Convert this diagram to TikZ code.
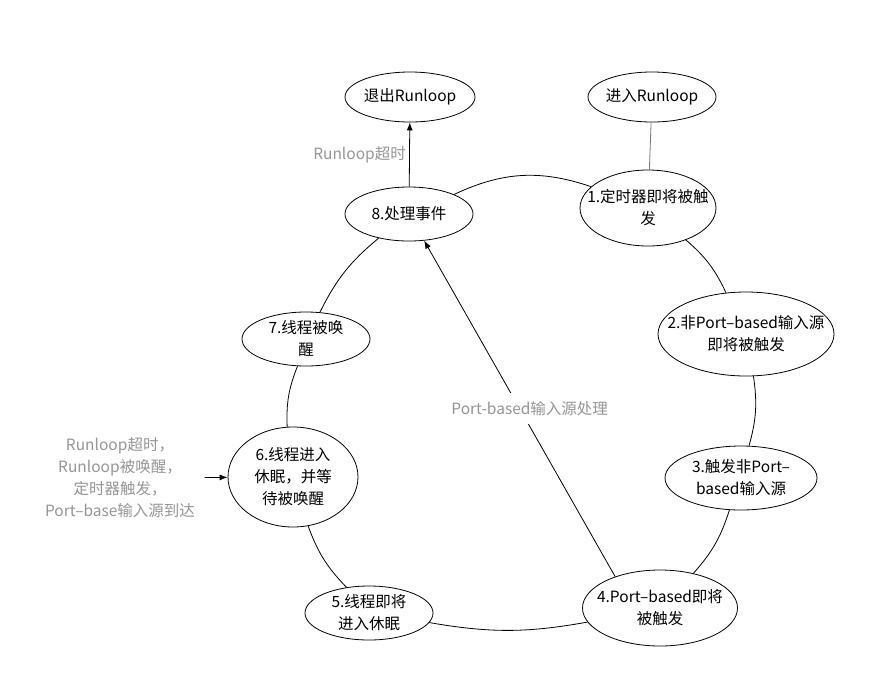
\documentclass[tikz,border=0pt]{standalone}
\usepackage{fontspec}
\setmainfont{Noto Sans CJK SC}
\usetikzlibrary{shapes, arrows.meta, positioning}
\definecolor{notegray}{RGB}{150,150,150}
\definecolor{linkgray}{RGB}{120,120,120}

\begin{document}
\begin{tikzpicture}[x=1pt, y=-1pt, line width=0.8pt,
  every node/.style={font=\fontsize{15.5}{22}\selectfont},
  state/.style={draw, ellipse, minimum width=128pt, minimum height=54pt, label={[align=center]center:#1}},
  note/.style={text=notegray, align=center},
  >={Latex[length=8pt,width=6pt]}]
\useasboundingbox (0,0) rectangle (891,681);
% States
\node[state={退出Runloop}, minimum width=130pt, minimum height=50pt] (Exit) at (410,97) {};
\node[state={进入Runloop}, minimum height=50pt] (Enter) at (652,97) {};
\node[state={8.处理事件}] (Handle) at (409,214) {};
\node[state={1.定时器即将被触\\发}, minimum width=136pt, minimum height=76pt] (Timer) at (648,208) {};
\node[state={2.非Port–based输入源\\即将被触发}, minimum width=176pt, minimum height=84pt] (NonPort) at (746,334) {};
\node[state={3.触发非Port–\\based输入源}, minimum width=152pt, minimum height=64pt] (FireNonPort) at (741,478) {};
\node[state={4.Port–based即将\\被触发}, minimum width=155pt, minimum height=76pt] (PortBased) at (660,608) {};
\node[state={5.线程即将\\进入休眠}] (PreSleep) at (369,613) {};
\node[state={6.线程进入\\休眠，并等\\待被唤醒}, minimum width=130pt, minimum height=100pt] (Sleep) at (293,477) {};
\node[state={7.线程被唤\\醒}] (Wake) at (306,339) {};
% Notes
\node[note] (Reasons) at (120,478) {Runloop超时，\\Runloop被唤醒，\\定时器触发，\\Port–base输入源到达};
% Loop
\draw (Handle) to[bend left=22] (Timer);
\draw (Timer) to[bend left=12] (NonPort);
\draw (NonPort) to[bend left=12] (FireNonPort);
\draw (FireNonPort) to[bend left=12] (PortBased);
\draw (PortBased) to[bend left=10] (PreSleep);
\draw (PreSleep) to[bend left=12] (Sleep);
\draw (Sleep) to[bend left=12] (Wake);
\draw (Wake) to[bend left=12] (Handle);
% Arrows
\draw[linkgray] (Enter) -- (Timer);
\draw[->] (Handle) -- (Exit) node[midway, left, note]{Runloop超时};
\draw[->] (PortBased.145) -- (Handle) node[midway, fill=white, inner ysep=8pt, xshift=10pt, note]{Port-based输入源处理};
\draw[->, shorten <=6pt] (Reasons) -- (Sleep);
\end{tikzpicture}
\end{document}
